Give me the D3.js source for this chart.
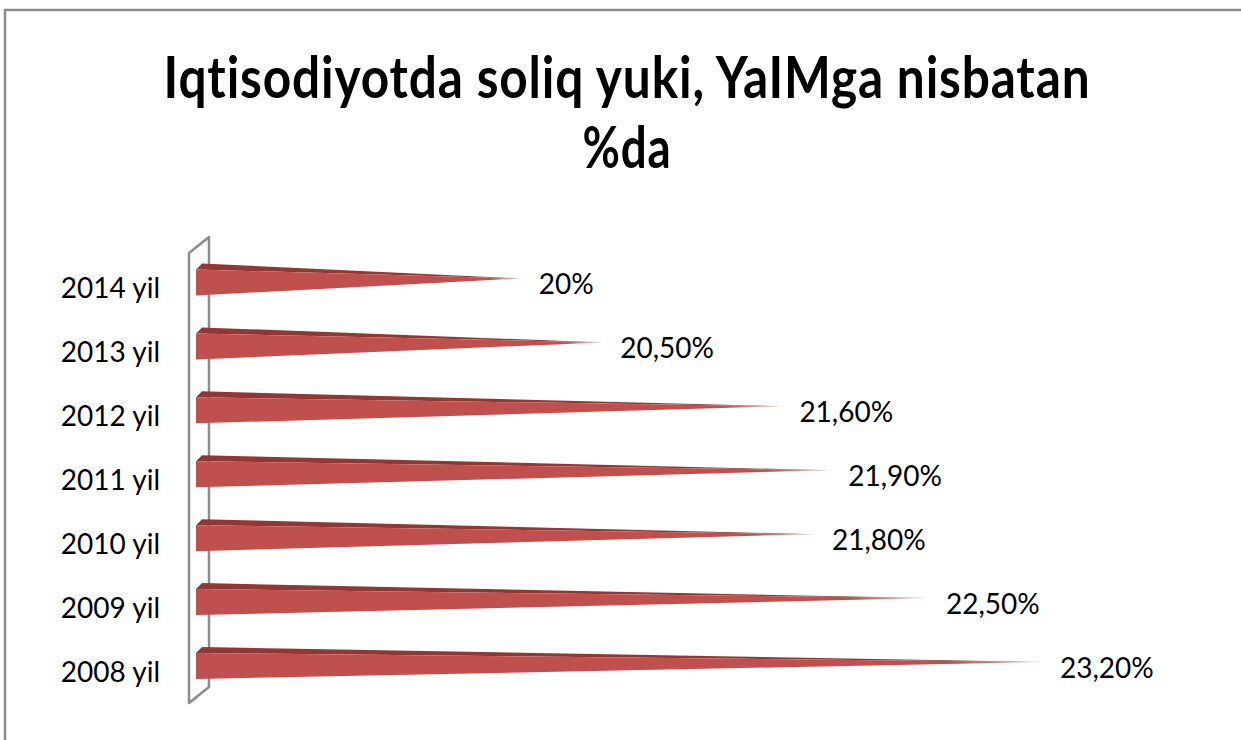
<!DOCTYPE html>
<html>
<head>
<meta charset="utf-8">
<script src="https://cdn.jsdelivr.net/npm/d3@7"></script>
<style>
    body { margin: 0; background: #fff; }
    text { font-family: Lato, "Open Sans", sans-serif; fill: #000; font-variant-ligatures: none; font-feature-settings: "liga" 0; }
</style>
</head>
<body>
<div id="chart"></div>
<script>
document.addEventListener('DOMContentLoaded', function() {
    // Chart data, top row first
    const years = ['2014 yil', '2013 yil', '2012 yil', '2011 yil', '2010 yil', '2009 yil', '2008 yil'];
    const values = [20, 20.5, 21.6, 21.9, 21.8, 22.5, 23.2];
    const valueLabels = ['20%', '20,50%', '21,60%', '21,90%', '21,80%', '22,50%', '23,20%'];
    const titleLines = ['Iqtisodiyotda soliq yuki, YaIMga nisbatan', '%da'];
    const axisDomain = [18, 23.2];

    const width = 1241, height = 740;
    const front = '#C0504D', topFace = '#943734';

    const svg = d3.select('#chart').append('svg')
        .attr('width', width)
        .attr('height', height);

    svg.append('rect').attr('width', width).attr('height', height).attr('fill', '#fff');

    // Outer chart frame (cut off at right and bottom)
    svg.append('rect')
        .attr('x', 5).attr('y', 10)
        .attr('width', 1400).attr('height', 900)
        .attr('fill', 'none')
        .attr('stroke', '#8c8c8c')
        .attr('stroke-width', 2.5);

    // Title: tall narrow lettering, squeezed horizontally to the target width
    const titleTargets = [[98, 927], [168, 89]];
    titleLines.forEach((line, i) => {
        const g = svg.append('g');
        const t = g.append('text')
            .attr('text-anchor', 'middle')
            .style('font-weight', 700)
            .style('font-size', '58px')
            .style('letter-spacing', '1px')
            .text(line);
        const natural = t.node().getComputedTextLength();
        const sx = titleTargets[i][1] / natural;
        g.attr('transform', `translate(627,${titleTargets[i][0]}) scale(${sx},1)`);
    });

    // Scales
    const x = d3.scaleLinear().domain(axisDomain).range([196, 1043]);
    const y = d3.scalePoint().domain(years).range([282.5, 666]);

    const half = 13;       // half height of front face
    const dx = 6, dy = 6;  // 3d depth offset

    // Axis wall (3d category axis)
    const x0 = 189, wallTop = 253, wallBottom = 703, wd = 20, wdy = 16;
    svg.append('path')
        .attr('d', `M${x0},${wallTop}L${x0 + wd},${wallTop - wdy}L${x0 + wd},${wallBottom - wdy}L${x0},${wallBottom}Z`)
        .attr('fill', 'none')
        .attr('stroke', '#8c8c8c')
        .attr('stroke-width', 2.5)
        .attr('stroke-linejoin', 'round');

    // Gradient that fades the sharp tip
    const defs = svg.append('defs');
    const grad = defs.append('linearGradient').attr('id', 'tipFade')
        .attr('x1', 0).attr('x2', 1).attr('y1', 0).attr('y2', 0);
    grad.append('stop').attr('offset', 0.9).attr('stop-color', front).attr('stop-opacity', 1);
    grad.append('stop').attr('offset', 1).attr('stop-color', front).attr('stop-opacity', 0.25);

    const data = years.map((d, i) => ({ year: d, value: values[i], label: valueLabels[i] }));
    const bars = svg.append('g').selectAll('g.bar').data(data).enter().append('g').attr('class', 'bar');

    const left = x(axisDomain[0]);

    // top face (dark)
    bars.append('path')
        .attr('d', d => {
            const cy = y(d.year), tip = x(d.value);
            return `M${left},${cy - half}L${left + dx},${cy - half - dy}L${tip},${cy - 4}Z`;
        })
        .attr('fill', topFace);

    // front face
    bars.append('path')
        .attr('d', d => {
            const cy = y(d.year), tip = x(d.value);
            return `M${left},${cy - half}L${left},${cy + half}L${tip},${cy - 4}Z`;
        })
        .attr('fill', 'url(#tipFade)');

    // value labels
    bars.append('text')
        .attr('x', d => x(d.value) + 17)
        .attr('y', d => y(d.year) + 11.5)
        .style('font-size', '28px')
        .text(d => d.label);

    // category labels
    svg.append('g').selectAll('text').data(years).enter().append('text')
        .attr('x', 160)
        .attr('y', d => y(d) + 15.5)
        .attr('text-anchor', 'end')
        .style('font-size', '28px')
        .text(d => d);
});
</script>
</body>
</html>
